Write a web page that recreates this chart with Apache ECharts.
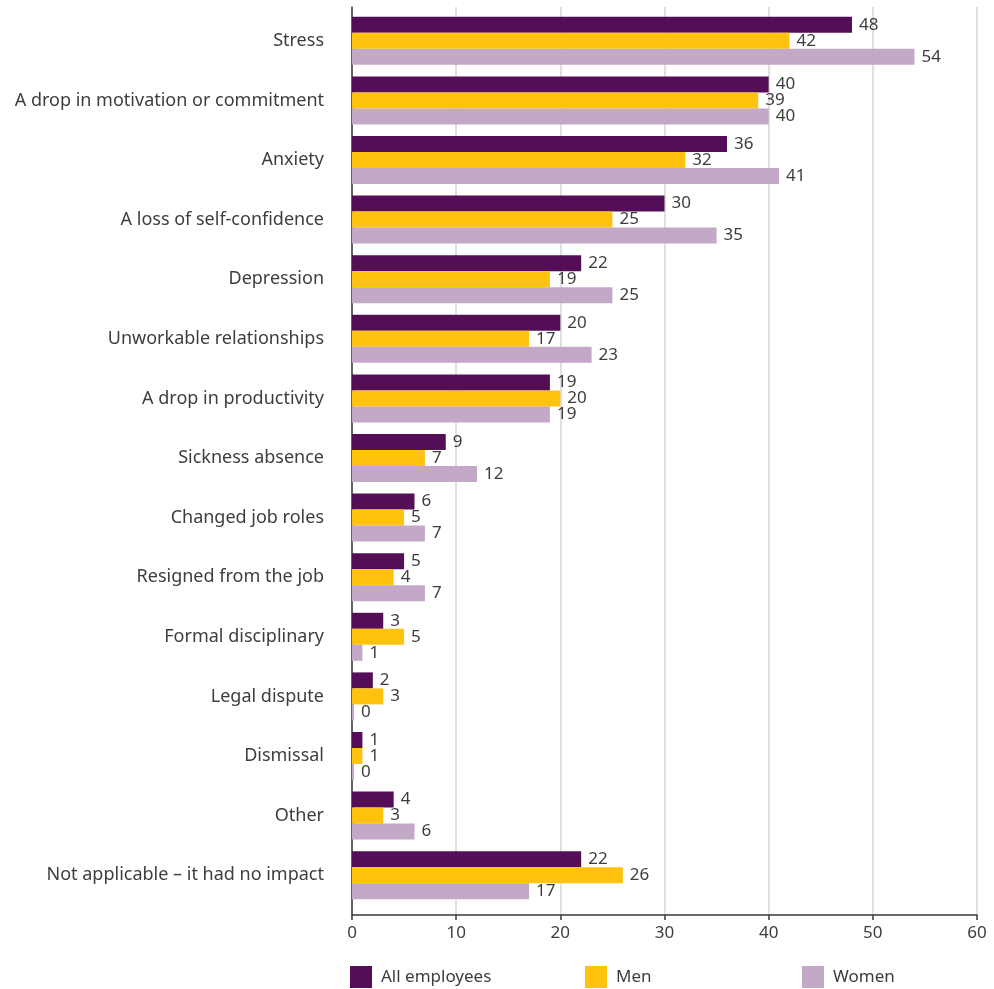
<!DOCTYPE html>
<html><head><meta charset="utf-8">
<script src="https://cdn.jsdelivr.net/npm/echarts@6/dist/echarts.min.js"></script>
<style>html,body{margin:0;padding:0;background:#fff}#c{width:994px;height:989px}</style>
</head><body><div id="c"></div>
<script>
const categories = ["Stress","A drop in motivation or commitment","Anxiety","A loss of self-confidence","Depression","Unworkable relationships","A drop in productivity","Sickness absence","Changed job roles","Resigned from the job","Formal disciplinary","Legal dispute","Dismissal","Other","Not applicable – it had no impact"];
const allEmployees = [48,40,36,30,22,20,19,9,6,5,3,2,1,4,22];
const men = [42,39,32,25,19,17,20,7,5,4,5,3,1,3,26];
const women = [54,40,41,35,25,23,19,12,7,7,1,0,0,6,17];
const seriesNames = ["All employees","Men","Women"];
const xTicks = [0,10,20,30,40,50,60];

const FONT = '"Noto Sans", "Open Sans", sans-serif';
const TXT = '#3d3d3d';
const colors = ['#530E57','#FFC20E','#C4A8C8'];

const chart = echarts.init(document.getElementById('c'));
const lbl = {show:true, position:'right', distance:7, color:TXT, fontSize:17, fontFamily:FONT};
function mk(name, data, i){
  return {name, type:'bar', data, xAxisIndex:1, yAxisIndex:1, barWidth:16, barGap:'0%',
    barMinHeight: i===2?2:0,
    itemStyle:{color:colors[i]}, label:lbl, animation:false};
}
chart.setOption({
  animation:false,
  color:colors,
  grid:[
    {left:352, right:17, top:7, bottom:74, containLabel:false},
    {left:352, right:17, top:11, height:894, containLabel:false}
  ],
  xAxis:[
    {gridIndex:0, type:'value', min:xTicks[0], max:xTicks[xTicks.length-1], interval:10,
     axisLine:{show:true, lineStyle:{color:'#3a3a3a', width:1.5}},
     axisTick:{show:true, length:5, lineStyle:{color:'#3a3a3a', width:1.5}},
     axisLabel:{color:TXT, fontSize:17, fontFamily:FONT, margin:10},
     splitLine:{show:true, lineStyle:{color:'#d6d6d6', width:1.5}}},
    {gridIndex:1, type:'value', min:0, max:60, interval:10, show:false}
  ],
  yAxis:[
    {gridIndex:0, type:'value', axisLine:{show:true, lineStyle:{color:'#3a3a3a', width:1.5}},
     axisTick:{show:false}, axisLabel:{show:false}, splitLine:{show:false}},
    {gridIndex:1, type:'category', data:categories, inverse:true,
     axisLine:{show:false}, axisTick:{show:false},
     axisLabel:{color:TXT, fontSize:18, fontFamily:FONT, margin:28}}
  ],
  legend:seriesNames.map((n,i)=>({
    data:[n], left:[345,580,797][i], top:961, itemWidth:22, itemHeight:22, itemGap:10,
    icon:'rect', textStyle:{color:TXT, fontSize:17, fontFamily:FONT, padding:[0,0,0,4]}, selectedMode:false
  })),
  series:[mk(seriesNames[0], allEmployees, 0), mk(seriesNames[1], men, 1), mk(seriesNames[2], women, 2)]
});
</script></body></html>
